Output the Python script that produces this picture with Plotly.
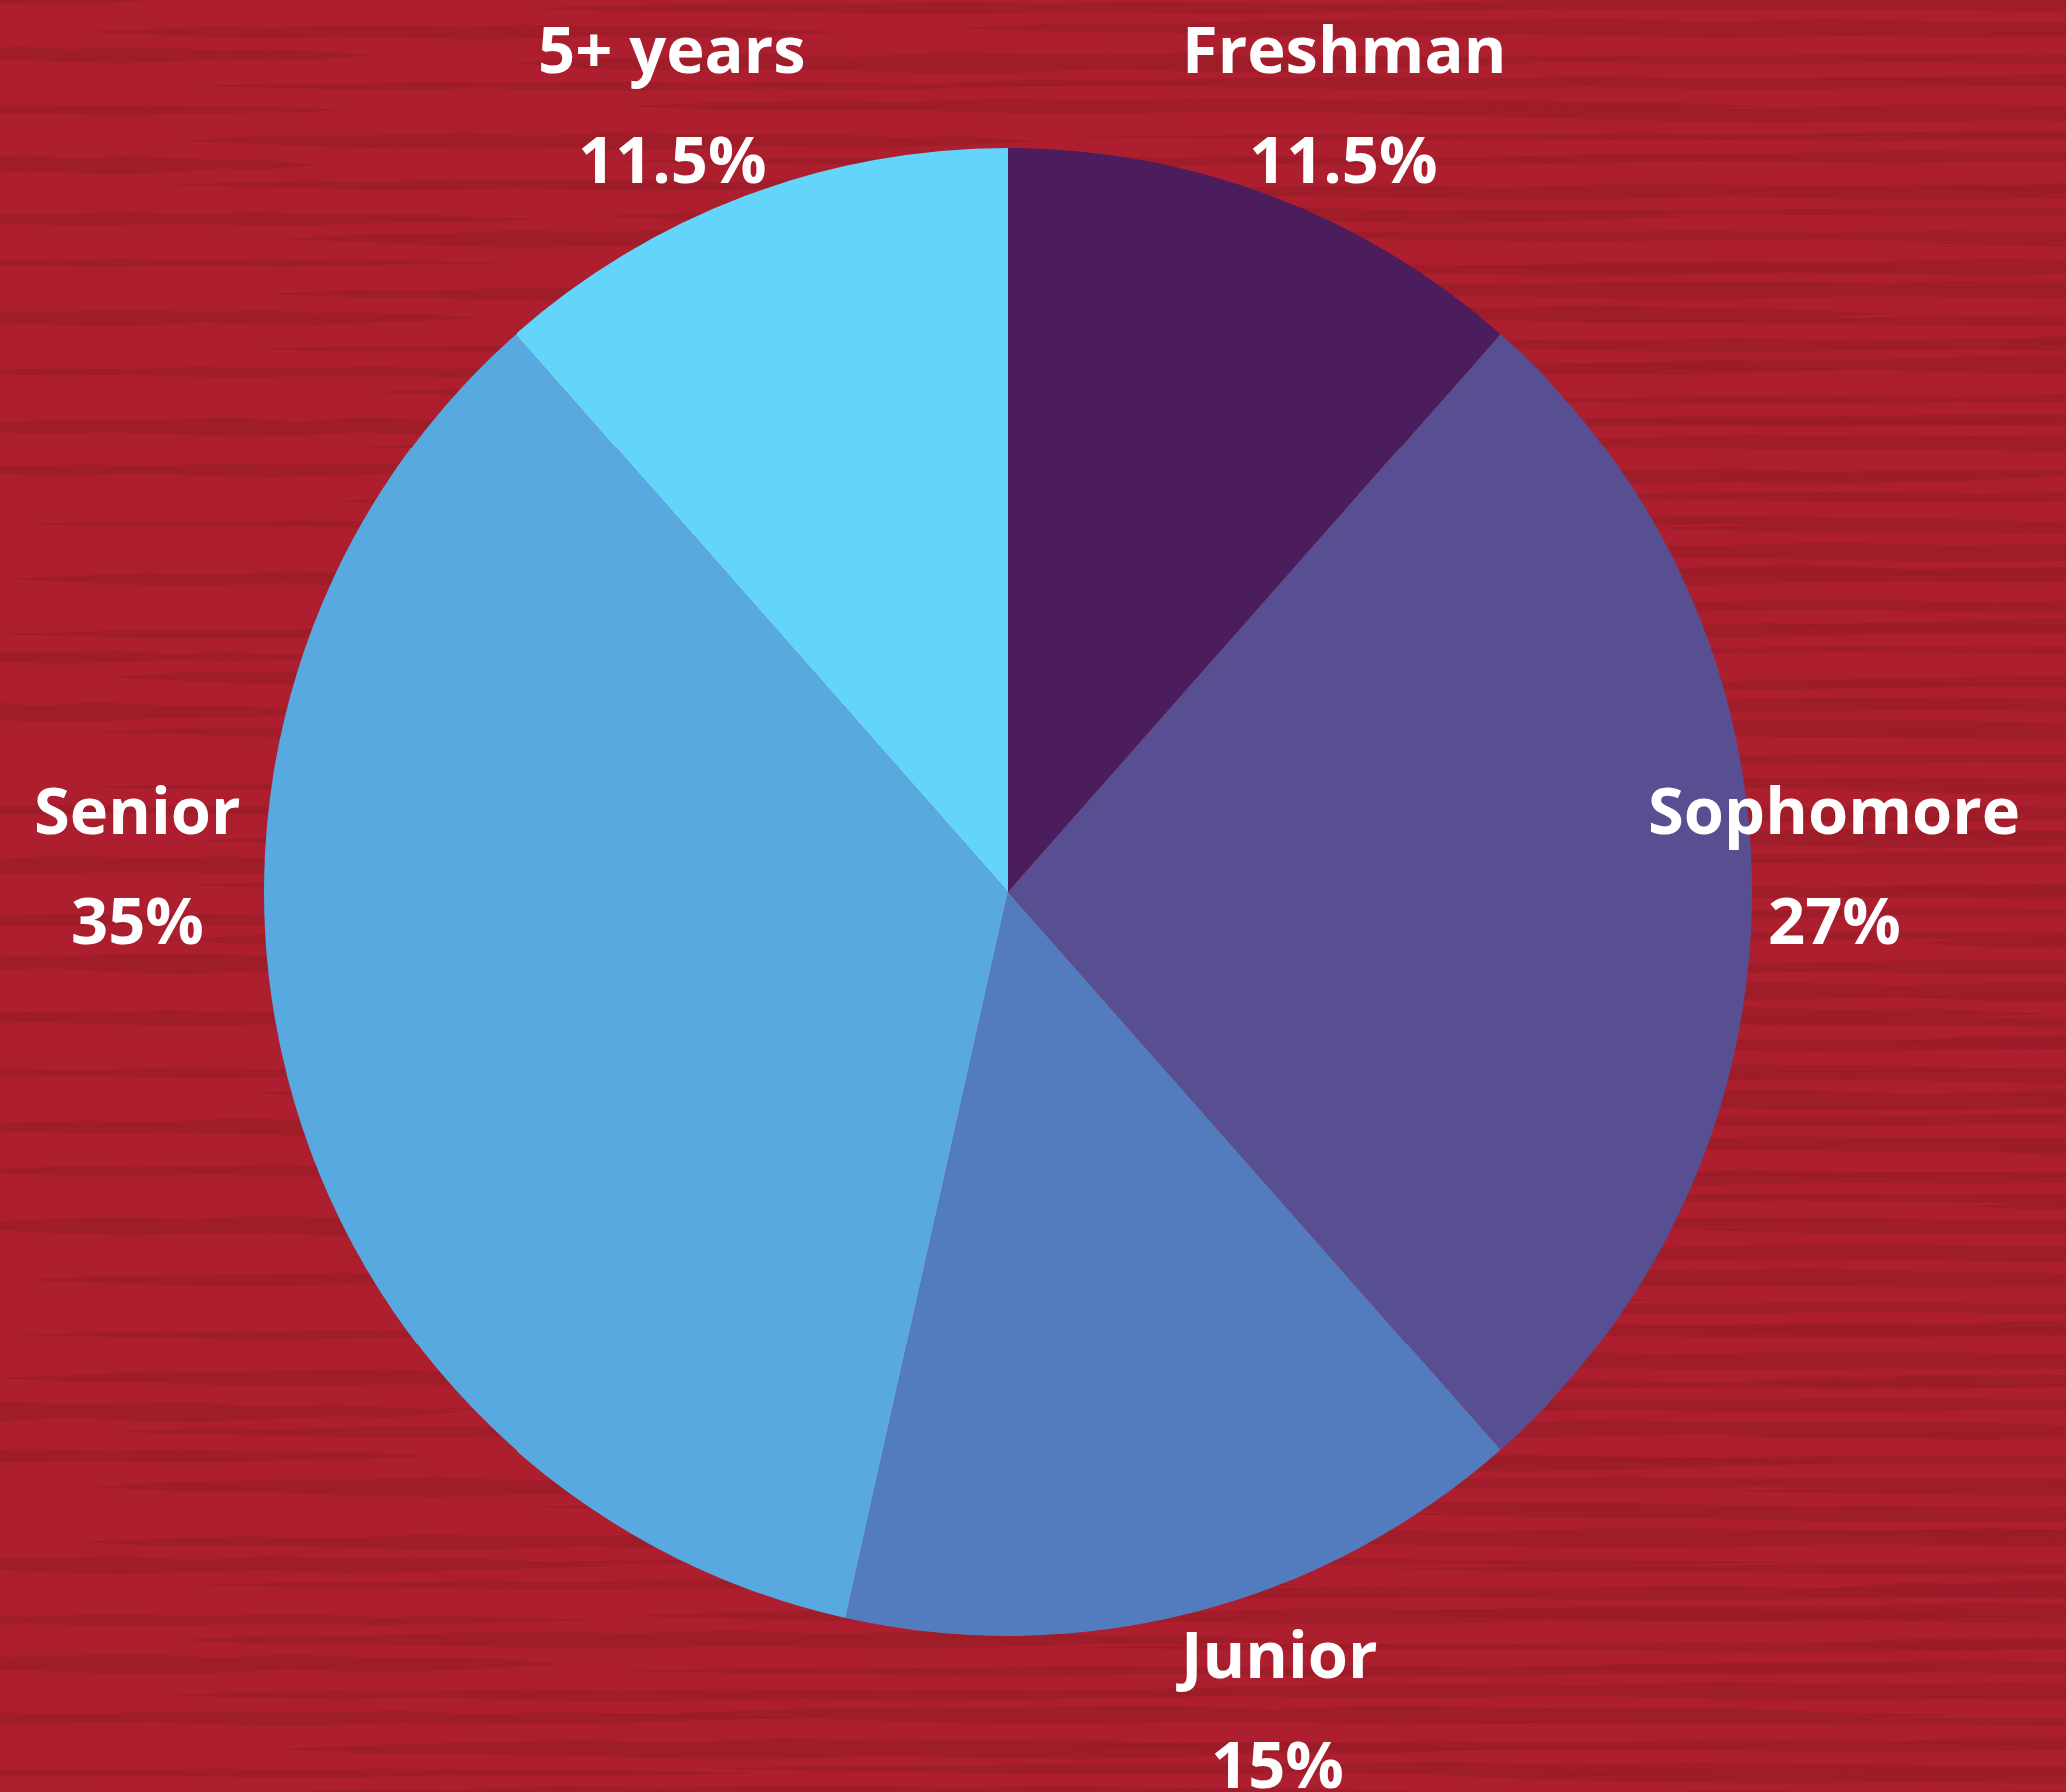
import math
import plotly.graph_objects as go

# Class-year breakdown
classes = ["Freshman", "Sophomore", "Junior", "Senior", "5+ years"]
shares = [11.5, 27, 15, 35, 11.5]
slice_colors = ["#4C1D5C", "#574F91", "#537CBE", "#58A9E0", "#63D5FB"]

W, H = 2068, 1794
CX, CY, R = 1009, 893, 745
BASE_RED = "#AD1F2F"
GRAIN_RED = "#9B1C28"


def px(x):
    return x / W


def py(y):
    return 1 - y / H


fig = go.Figure(
    go.Pie(
        labels=classes,
        values=shares,
        sort=False,
        direction="clockwise",
        rotation=0,
        marker=dict(colors=slice_colors, line=dict(width=0)),
        textinfo="none",
        hoverinfo="label+percent",
        showlegend=False,
        domain=dict(x=[px(CX - R), px(CX + R)], y=[py(CY + R), py(CY - R)]),
    )
)


def grain_path(x0, length, yc, thick, seed):
    """Irregular tapered streak, returned as an SVG path in paper units."""
    n = 12
    top, bot = [], []
    for i in range(n + 1):
        t = i / n
        x = x0 + t * length
        taper = math.sin(math.pi * t) ** 0.5
        wob_t = 0.5 + 0.5 * abs(math.sin(seed * 1.37 + i * 1.9))
        wob_b = 0.5 + 0.5 * abs(math.cos(seed * 0.73 + i * 2.3))
        top.append((x, yc - thick / 2 * taper * wob_t))
        bot.append((x, yc + thick / 2 * taper * wob_b))
    pts = top + bot[::-1]
    d = "M " + " L ".join(f"{px(a)},{py(b)}" for a, b in pts) + " Z"
    return d


# Wood-grain streaks for the backdrop
shapes = []
row = 0
y = 6
while y < H + 12:
    for j in range(3):
        x0 = ((row * 431 + j * 877) % 2500) - 350
        length = 500 + ((row * 263 + j * 541) % 1500)
        thick = 8 + ((row * 7 + j * 5) % 15)
        yc = y + ((row * 5 + j * 7) % 11) - 5
        shapes.append(
            dict(
                type="path",
                path=grain_path(x0, length, yc, thick, row * 3 + j),
                xref="paper",
                yref="paper",
                fillcolor=GRAIN_RED,
                opacity=0.8,
                line=dict(width=0),
                layer="below",
            )
        )
    row += 1
    y += 26

# Two-line labels (name above, share below) placed around the pie
annotations = []
total = sum(shares)
cum = 0.0
label_font = dict(family="Open Sans", size=65, color="white", weight="bold")
for name, v in zip(classes, shares):
    mid = math.radians((cum + v / 2) / total * 360)
    cum += v
    s, c = math.sin(mid), math.cos(mid)
    if abs(c) < 0.5:
        # side labels sit level with the centre
        lx = CX + math.copysign(1.14 * R, s) - 22
        ly = CY - 28
    else:
        lx = CX + 0.85 * R * s + math.copysign(0.15 * R, s)
        ly = CY - 1.14 * R * c
        if c > 0:
            ly += 4
        else:
            ly -= 6
    annotations.append(
        dict(x=px(lx), y=py(ly - 55), xref="paper", yref="paper", text=name,
             showarrow=False, xanchor="center", yanchor="middle", font=label_font)
    )
    annotations.append(
        dict(x=px(lx), y=py(ly + 55), xref="paper", yref="paper", text=f"{v:g}%",
             showarrow=False, xanchor="center", yanchor="middle", font=label_font)
    )

fig.update_layout(
    width=W,
    height=H,
    margin=dict(l=0, r=0, t=0, b=0),
    paper_bgcolor=BASE_RED,
    plot_bgcolor=BASE_RED,
    shapes=shapes,
    annotations=annotations,
)

fig.write_html("out.html")
